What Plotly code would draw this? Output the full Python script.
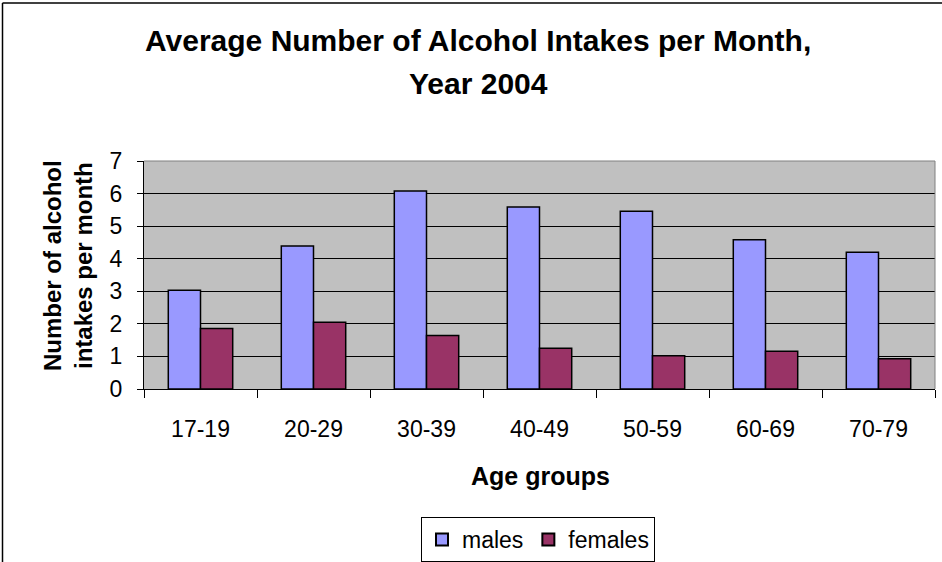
import plotly.graph_objects as go

# Average monthly alcohol intakes by age group, 2004
age_groups = ["17-19", "20-29", "30-39", "40-49", "50-59", "60-69", "70-79"]
males = [3.03, 4.39, 6.08, 5.59, 5.46, 4.58, 4.20]
females = [1.86, 2.05, 1.64, 1.25, 1.02, 1.16, 0.93]
y_ticks = [0, 1, 2, 3, 4, 5, 6, 7]

FONT = "Liberation Sans, Arial, sans-serif"
W, H = 942, 562
L, R, T, B = 144, 7, 161, 173
PW, PH = W - L - R, H - T - B


def px_x(x):
    return (x - L) / PW


def px_y(y):
    return (H - B - y) / PH


fig = go.Figure()
fig.add_trace(go.Bar(
    x=age_groups, y=males, name="males",
    marker=dict(color="#9999FF", line=dict(color="black", width=1.5)),
))
fig.add_trace(go.Bar(
    x=age_groups, y=females, name="females",
    marker=dict(color="#993366", line=dict(color="black", width=1.5)),
))

fig.update_layout(
    width=W, height=H,
    margin=dict(l=L, r=R, t=T, b=B, autoexpand=False),
    paper_bgcolor="white",
    plot_bgcolor="#C0C0C0",
    barmode="group", bargap=0.43, bargroupgap=0,
    font=dict(family=FONT, color="black", size=23),
    showlegend=True,
    legend=dict(
        orientation="h", xref="container", yref="container",
        x=538 / W, xanchor="center",
        y=1 - 517 / H, yanchor="top",
        bordercolor="black", borderwidth=1,
        font=dict(size=23, family=FONT), bgcolor="white",
        itemsizing="constant",
    ),
)

fig.update_xaxes(
    type="category", showline=True, linecolor="black", linewidth=1,
    ticks="outside", ticklen=8, tickcolor="black", tickson="boundaries",
    showgrid=False, tickfont=dict(size=23, family=FONT),
    ticklabelstandoff=19,
)
fig.update_yaxes(
    range=[0, 7], tickvals=y_ticks, showline=True, linecolor="black",
    linewidth=1, ticks="outside", ticklen=6, tickcolor="black",
    showgrid=True, gridcolor="black", gridwidth=1, zeroline=False,
    tickfont=dict(size=23, family=FONT), ticklabelstandoff=10,
)

# Gray frame on the top and right of the plot area
fig.add_shape(type="line", xref="paper", yref="paper", x0=0, x1=1, y0=1, y1=1,
              line=dict(color="#808080", width=1))
fig.add_shape(type="line", xref="paper", yref="paper", x0=1, x1=1, y0=0, y1=1,
              line=dict(color="#808080", width=1))

# Chart border (top and left edges)
fig.add_shape(type="line", xref="paper", yref="paper",
              x0=px_x(2.5), x1=px_x(W + 5), y0=px_y(3), y1=px_y(3),
              line=dict(color="black", width=1.5))
fig.add_shape(type="line", xref="paper", yref="paper",
              x0=px_x(2.5), x1=px_x(2.5), y0=px_y(3), y1=px_y(H + 5),
              line=dict(color="black", width=1.5))

# Titles
fig.add_annotation(text="<b>Average Number of Alcohol Intakes per Month,</b>",
                   xref="paper", yref="paper", x=px_x(478), y=px_y(41),
                   xanchor="center", yanchor="middle", showarrow=False,
                   font=dict(size=30, family=FONT))
fig.add_annotation(text="<b>Year 2004</b>",
                   xref="paper", yref="paper", x=px_x(478), y=px_y(84),
                   xanchor="center", yanchor="middle", showarrow=False,
                   font=dict(size=30, family=FONT))
fig.add_annotation(text="<b>Age groups</b>",
                   xref="paper", yref="paper", x=px_x(540), y=px_y(476),
                   xanchor="center", yanchor="middle", showarrow=False,
                   font=dict(size=25, family=FONT))
fig.add_annotation(text="<b>Number of alcohol<br>intakes per month</b>",
                   xref="paper", yref="paper", x=px_x(68), y=px_y(266),
                   xanchor="center", yanchor="middle", showarrow=False,
                   textangle=-90, font=dict(size=24, family=FONT))

fig.write_html("out.html")
